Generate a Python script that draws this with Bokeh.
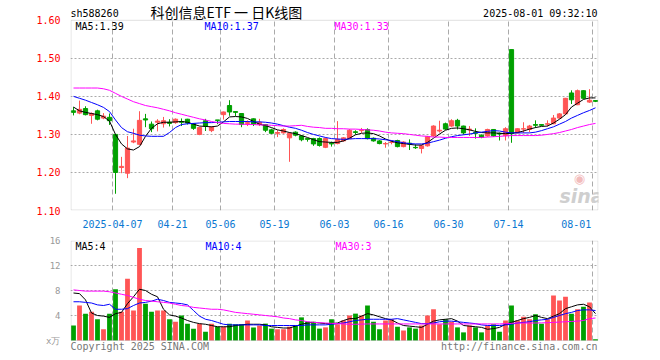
from bokeh.plotting import figure
from bokeh.layouts import column
from bokeh.models import FixedTicker, NumeralTickFormatter, Label, ColumnDataSource, BoxAnnotation
from bokeh.embed import file_html
from bokeh.resources import INLINE

# ---------------- data ----------------
opens = [1.362, 1.356, 1.368, 1.350, 1.362, 1.343, 1.345, 1.300, 1.213, 1.198,
         1.280, 1.274, 1.341, 1.327, 1.332, 1.328, 1.332, 1.331, 1.334, 1.340,
         1.328, 1.300, 1.336, 1.310, 1.338, 1.352, 1.376, 1.360, 1.355, 1.329,
         1.341, 1.326, 1.326, 1.312, 1.303, 1.304, 1.291, 1.306, 1.296, 1.289,
         1.289, 1.289, 1.266, 1.277, 1.276, 1.283, 1.289, 1.307, 1.310, 1.313,
         1.290, 1.283, 1.275, 1.279, 1.284, 1.268, 1.277, 1.266, 1.263, 1.270,
         1.296, 1.309, 1.328, 1.322, 1.337, 1.322, 1.312, 1.305, 1.298, 1.296,
         1.313, 1.303, 1.297, 1.523, 1.304, 1.314, 1.313, 1.326, 1.326, 1.327,
         1.328, 1.343, 1.354, 1.409, 1.378, 1.415, 1.385, 1.389]
closes = [1.358, 1.366, 1.352, 1.355, 1.340, 1.348, 1.336, 1.200, 1.216, 1.264,
          1.283, 1.337, 1.338, 1.315, 1.335, 1.336, 1.329, 1.340, 1.332, 1.330,
          1.316, 1.318, 1.322, 1.319, 1.337, 1.359, 1.359, 1.358, 1.326, 1.331,
          1.327, 1.332, 1.311, 1.303, 1.305, 1.313, 1.303, 1.298, 1.286, 1.287,
          1.275, 1.271, 1.289, 1.275, 1.287, 1.291, 1.311, 1.305, 1.311, 1.289,
          1.283, 1.276, 1.276, 1.280, 1.268, 1.280, 1.275, 1.265, 1.270, 1.294,
          1.322, 1.311, 1.314, 1.336, 1.322, 1.304, 1.314, 1.303, 1.292, 1.313,
          1.296, 1.301, 1.315, 1.302, 1.315, 1.315, 1.322, 1.324, 1.324, 1.328,
          1.343, 1.354, 1.395, 1.391, 1.415, 1.395, 1.390, 1.387]
highs = [1.372, 1.389, 1.374, 1.358, 1.365, 1.356, 1.355, 1.300, 1.241, 1.296,
         1.315, 1.361, 1.354, 1.334, 1.340, 1.346, 1.340, 1.342, 1.342, 1.341,
         1.330, 1.320, 1.341, 1.321, 1.338, 1.360, 1.390, 1.360, 1.356, 1.337,
         1.342, 1.341, 1.327, 1.315, 1.311, 1.316, 1.306, 1.308, 1.298, 1.290,
         1.291, 1.292, 1.292, 1.281, 1.335, 1.293, 1.314, 1.311, 1.317, 1.316,
         1.292, 1.285, 1.280, 1.284, 1.286, 1.282, 1.287, 1.274, 1.273, 1.296,
         1.324, 1.336, 1.331, 1.340, 1.341, 1.323, 1.322, 1.316, 1.300, 1.315,
         1.314, 1.305, 1.319, 1.523, 1.316, 1.332, 1.325, 1.337, 1.327, 1.337,
         1.351, 1.356, 1.396, 1.416, 1.418, 1.416, 1.419, 1.390]
lows = [1.350, 1.353, 1.350, 1.328, 1.337, 1.340, 1.325, 1.144, 1.198, 1.185,
        1.277, 1.272, 1.319, 1.306, 1.308, 1.318, 1.321, 1.328, 1.322, 1.326,
        1.312, 1.298, 1.309, 1.306, 1.327, 1.339, 1.349, 1.348, 1.319, 1.322,
        1.322, 1.322, 1.306, 1.301, 1.293, 1.302, 1.228, 1.295, 1.282, 1.281,
        1.270, 1.268, 1.264, 1.268, 1.274, 1.281, 1.288, 1.300, 1.304, 1.287,
        1.281, 1.274, 1.265, 1.274, 1.266, 1.266, 1.259, 1.262, 1.250, 1.268,
        1.294, 1.305, 1.312, 1.320, 1.313, 1.300, 1.296, 1.289, 1.290, 1.294,
        1.294, 1.284, 1.284, 1.278, 1.303, 1.304, 1.306, 1.317, 1.322, 1.321,
        1.327, 1.341, 1.352, 1.380, 1.377, 1.393, 1.383, 1.385]
volumes = [2.4, 5.6, 4.3, 4.6, 3.4, 1.8, 4.3, 8.2, 4.6, 9.9,
           4.8, 14.8, 5.9, 4.6, 4.8, 4.8, 3.4, 3.0, 4.0, 2.7,
           1.9, 2.7, 1.4, 2.7, 2.2, 2.2, 2.7, 2.6, 2.6, 3.2,
           2.1, 2.4, 2.7, 1.9, 1.8, 1.8, 2.2, 2.4, 3.7, 3.0,
           3.0, 1.9, 2.1, 3.4, 2.6, 3.2, 4.0, 4.3, 4.0, 5.6,
           3.0, 1.8, 3.2, 3.4, 2.2, 1.6, 2.1, 1.9, 2.4, 4.0,
           5.0, 2.6, 3.4, 3.0, 2.1, 1.3, 2.4, 2.1, 1.3, 2.4,
           2.6, 1.4, 3.2, 5.6, 3.2, 3.8, 3.4, 4.2, 2.7, 3.4,
           7.2, 6.4, 7.0, 4.3, 5.0, 5.4, 6.1, 0.2]
ma5 = [1.372, 1.362, 1.358, 1.355, 1.352, 1.347, 1.335, 1.300, 1.275, 1.262,
       1.259, 1.268, 1.295, 1.316, 1.328, 1.332, 1.332, 1.333, 1.334, 1.332,
       1.327, 1.322, 1.321, 1.320, 1.322, 1.333, 1.346, 1.347, 1.346, 1.342,
       1.334, 1.327, 1.323, 1.318, 1.312, 1.309, 1.305, 1.302, 1.297, 1.292,
       1.286, 1.281, 1.280, 1.279, 1.279, 1.283, 1.290, 1.299, 1.303, 1.304,
       1.302, 1.296, 1.288, 1.282, 1.278, 1.276, 1.274, 1.272, 1.272, 1.279,
       1.290, 1.301, 1.311, 1.316, 1.317, 1.315, 1.312, 1.308, 1.305, 1.304,
       1.304, 1.303, 1.302, 1.303, 1.305, 1.309, 1.314, 1.318, 1.321, 1.322,
       1.330, 1.340, 1.352, 1.372, 1.382, 1.392, 1.396, 1.396]
ma10 = [1.400, 1.395, 1.390, 1.384, 1.378, 1.371, 1.360, 1.338, 1.318, 1.307,
        1.303, 1.298, 1.296, 1.295, 1.295, 1.295, 1.305, 1.318, 1.326, 1.328,
        1.329, 1.330, 1.331, 1.331, 1.332, 1.333, 1.334, 1.334, 1.334, 1.334,
        1.333, 1.333, 1.332, 1.330, 1.327, 1.323, 1.319, 1.316, 1.311, 1.305,
        1.300, 1.296, 1.292, 1.289, 1.288, 1.287, 1.288, 1.289, 1.289, 1.289,
        1.289, 1.288, 1.286, 1.284, 1.281, 1.278, 1.276, 1.275, 1.275, 1.277,
        1.281, 1.285, 1.290, 1.294, 1.297, 1.299, 1.301, 1.304, 1.306, 1.308,
        1.310, 1.309, 1.306, 1.304, 1.304, 1.304, 1.304, 1.306, 1.310, 1.315,
        1.320, 1.327, 1.334, 1.343, 1.350, 1.357, 1.363, 1.370]
ma30 = [1.422, 1.422, 1.422, 1.422, 1.422, 1.420, 1.416, 1.408, 1.400, 1.393,
        1.386, 1.381, 1.376, 1.373, 1.370, 1.366, 1.362, 1.357, 1.353, 1.349,
        1.345, 1.341, 1.338, 1.334, 1.331, 1.329, 1.328, 1.327, 1.327, 1.326,
        1.326, 1.325, 1.325, 1.324, 1.323, 1.322, 1.322, 1.323, 1.324, 1.321,
        1.319, 1.318, 1.316, 1.316, 1.315, 1.315, 1.314, 1.314, 1.313, 1.312,
        1.311, 1.309, 1.306, 1.304, 1.303, 1.302, 1.300, 1.298, 1.296, 1.295,
        1.293, 1.293, 1.292, 1.292, 1.292, 1.292, 1.292, 1.292, 1.292, 1.293,
        1.294, 1.295, 1.296, 1.297, 1.297, 1.297, 1.297, 1.297, 1.298, 1.300,
        1.302, 1.305, 1.309, 1.313, 1.318, 1.322, 1.326, 1.329]
vma5 = [7.6, 7.5, 6.5, 4.4, 4.0, 3.9, 3.7, 4.3, 4.5, 5.9,
        7.0, 8.2, 8.0, 7.4, 7.0, 5.0, 4.1, 3.9, 3.6, 3.2,
        2.9, 2.7, 2.6, 2.4, 2.2, 2.2, 2.2, 2.4, 2.5, 2.6,
        2.6, 2.6, 2.5, 2.2, 2.1, 2.0, 2.0, 2.3, 2.6, 2.8,
        2.9, 2.8, 2.7, 2.7, 2.8, 3.2, 3.5, 3.5, 3.9, 4.3,
        4.1, 3.8, 3.5, 3.3, 2.8, 2.4, 2.3, 2.2, 2.1, 2.6,
        3.1, 3.3, 3.4, 3.5, 3.1, 2.4, 2.3, 2.2, 2.1, 1.8,
        1.9, 2.1, 2.6, 2.9, 3.2, 3.5, 3.7, 4.0, 3.7, 3.5,
        3.9, 4.3, 5.1, 5.4, 5.7, 5.8, 5.4, 4.3]
vma10 = [6.2, 6.2, 6.1, 6.0, 5.7, 5.6, 5.8, 5.0, 5.0, 5.1,
         5.6, 6.0, 6.1, 6.3, 6.6, 6.4, 6.1, 6.0, 5.9, 5.7,
         4.8, 3.9, 3.4, 3.2, 2.9, 2.6, 2.5, 2.5, 2.5, 2.5,
         2.5, 2.5, 2.4, 2.4, 2.4, 2.4, 2.4, 2.4, 2.4, 2.5,
         2.5, 2.5, 2.5, 2.6, 2.7, 2.8, 3.0, 3.2, 3.3, 3.4,
         3.4, 3.4, 3.4, 3.4, 3.5, 3.3, 3.1, 2.9, 2.7, 2.7,
         2.8, 3.0, 3.1, 3.1, 3.0, 2.9, 2.8, 2.7, 2.5, 2.4,
         2.4, 2.4, 2.5, 2.6, 2.8, 2.9, 3.0, 3.2, 3.3, 3.4,
         3.7, 4.0, 4.3, 4.5, 4.8, 4.9, 4.9, 4.8]
vma30 = [8.1, 8.0, 7.9, 7.9, 7.9, 7.9, 7.8, 7.6, 7.4, 7.2,
         6.9, 6.6, 6.4, 6.3, 6.2, 6.1, 6.0, 5.8, 5.6, 5.5,
         5.3, 5.2, 5.1, 5.0, 5.0, 4.9, 4.7, 4.5, 4.4, 4.3,
         4.2, 4.1, 4.0, 3.9, 3.8, 3.6, 3.5, 3.3, 3.2, 3.0,
         2.9, 2.85, 2.8, 2.75, 2.7, 2.65, 2.6, 2.6, 2.62, 2.65,
         2.65, 2.65, 2.65, 2.65, 2.65, 2.65, 2.65, 2.65, 2.65, 2.65,
         2.65, 2.65, 2.65, 2.65, 2.65, 2.65, 2.65, 2.65, 2.65, 2.65,
         2.65, 2.65, 2.7, 2.75, 2.8, 2.8, 2.8, 2.8, 2.82, 2.85,
         2.9, 2.95, 3.0, 3.05, 3.1, 3.2, 3.5, 3.6]

date_labels = ["2025-04-07", "04-21", "05-06", "05-19", "06-03",
               "06-16", "06-30", "07-14", "08-01"]
date_index = [7, 17, 25, 34, 44, 53, 63, 73, 87]
price_ticks = [1.10, 1.20, 1.30, 1.40, 1.50, 1.60]
volume_ticks = [0, 4, 8, 12, 16]

# ---------------- styling ----------------
RED = "#ff5555"
GREEN = "#00a000"
MONO = "DejaVu Sans Mono"
GRID = "#aaaaaa"
BOX = "#999999"
FRAME_W = 528          # px width of the plotting box
SLOT = FRAME_W / 88.0  # px per trading day
PPX = 0.5 / 192        # price per px
VPX = 16 / 100.0       # volume per px

n = len(closes)
idx = list(range(n))
colors = [RED if c >= o else GREEN for o, c in zip(opens, closes)]
src = ColumnDataSource(dict(
    x=idx, open=opens, close=closes, high=highs, low=lows,
    top=[max(o, c) for o, c in zip(opens, closes)],
    bot=[min(o, c) for o, c in zip(opens, closes)],
    vol=volumes, color=colors))

line_pos = [i - 0.5 for i in date_index]
label_pos = line_pos[:-1] + [line_pos[-1] - 2.7]
x_overrides = {p: t for p, t in zip(label_pos, date_labels)}
hx = 0.5 / SLOT


def base_fig(height, y_range, top, bottom):
    p = figure(width=650, height=height, x_range=(-0.5, n - 0.5), y_range=y_range,
               output_backend="svg", toolbar_location=None, title=None,
               min_border_left=70, min_border_right=650 - 70 - FRAME_W,
               min_border_top=top, min_border_bottom=bottom)
    p.outline_line_color = None
    p.background_fill_color = "white"
    p.border_fill_color = "white"
    p.xgrid.visible = False
    p.ygrid.grid_line_color = GRID
    p.ygrid.grid_line_dash = "2 2"
    p.yaxis.axis_line_color = None
    p.yaxis.major_tick_line_color = None
    p.yaxis.minor_tick_line_color = None
    p.yaxis.major_label_standoff = 4
    p.yaxis.major_label_text_font = MONO
    return p


def lab(p, x, y, text, color="black", size="10px", align="left", font=MONO, style="normal"):
    p.add_layout(Label(x=x, y=y, text=text, text_color=color, text_font=font,
                       text_font_size=size, text_align=align, text_baseline="middle",
                       text_font_style=style))


def px_to_x(px):
    return (px - 70) / SLOT - 0.5


# ---------------- price panel (frame extends up to the page top for the header) ----------------
p_lo, p_hi = price_ticks[0], price_ticks[-1]
p1 = base_fig(230, (p_lo, p_hi + 20 * PPX), 0, 18)
p1.ygrid.ticker = FixedTicker(ticks=price_ticks[1:-1])
p1.yaxis.ticker = FixedTicker(ticks=price_ticks)
p1.yaxis.formatter = NumeralTickFormatter(format="0.00")
p1.yaxis.major_label_text_color = "#ff0000"
p1.yaxis.major_label_text_font_size = "10px"
p1.xaxis.ticker = FixedTicker(ticks=label_pos)
p1.xaxis.major_label_overrides = x_overrides
p1.xaxis.axis_line_color = None
p1.xaxis.major_tick_line_color = None
p1.xaxis.minor_tick_line_color = None
p1.xaxis.major_label_standoff = 3
p1.xaxis.major_label_text_font = MONO
p1.xaxis.major_label_text_font_size = "10px"
p1.xaxis.major_label_text_color = "#0a78d2"

p1.segment(x0=line_pos, y0=[p_lo] * len(line_pos), x1=line_pos, y1=[p_hi] * len(line_pos),
           line_color=GRID, line_dash="5 3", line_width=1)
p1.add_layout(BoxAnnotation(left=-0.5 + hx, right=n - 0.5 - hx, bottom=p_lo + PPX / 2, top=p_hi,
                            fill_color=None, line_color=BOX, line_width=1))
p1.segment(x0="x", y0="low", x1="x", y1="high", line_color="color", line_width=1, source=src)
p1.vbar(x="x", width=0.7, top="top", bottom="bot", fill_color="color",
        line_color="color", line_width=1, source=src)
p1.line(idx, ma5, line_color="black", line_width=1)
p1.line(idx, ma10, line_color="#0000ff", line_width=1)
p1.line(idx, ma30, line_color="#ff00ff", line_width=1)

lab(p1, px_to_x(70), p_hi + 7 * PPX, "sh588260")
lab(p1, px_to_x(150), p_hi + 8.5 * PPX, "科创信息ETF 一 日K线图", size="14px", font="Noto Sans CJK SC")
lab(p1, px_to_x(597), p_hi + 7 * PPX, "2025-08-01 09:32:10", align="right")
lab(p1, px_to_x(75), p_hi - 6 * PPX, "MA5:1.39", color="black")
lab(p1, px_to_x(204), p_hi - 6 * PPX, "MA10:1.37", color="#0000ff")
lab(p1, px_to_x(334), p_hi - 6 * PPX, "MA30:1.33", color="#ff00ff")
# watermark
lab(p1, px_to_x(579), p_hi - 160 * PPX, "◉", color="#f2bcbc", size="13px", align="center", font="DejaVu Sans")
lab(p1, px_to_x(581), p_hi - 177 * PPX, "sina", color="#cfcfcf", size="19px", align="center",
    font="DejaVu Sans", style="bold italic")

# ---------------- volume panel (frame extends down for the footer) ----------------
v_lo, v_hi = volume_ticks[0], volume_ticks[-1]
p2 = base_fig(126, (v_lo - 16 * VPX, v_hi), 10, 0)
p2.xaxis.visible = False
p2.ygrid.ticker = FixedTicker(ticks=volume_ticks[1:-1])
p2.yaxis.ticker = FixedTicker(ticks=volume_ticks)
p2.yaxis.major_label_overrides = {0: "x万"}
p2.yaxis.major_label_text_color = "#999999"
p2.yaxis.major_label_text_font_size = "9px"

p2.segment(x0=line_pos, y0=[v_lo] * len(line_pos), x1=line_pos, y1=[v_hi] * len(line_pos),
           line_color=GRID, line_dash="5 3", line_width=1)
p2.vbar(x="x", width=0.8, top="vol", bottom=0, fill_color="color", line_color=None, source=src)
p2.line(idx, vma5, line_color="black", line_width=1)
p2.line(idx, vma10, line_color="#0000ff", line_width=1)
p2.line(idx, vma30, line_color="#ff00ff", line_width=1)
p2.add_layout(BoxAnnotation(left=-0.5 + hx, right=n - 0.5 - hx, bottom=v_lo, top=v_hi - VPX / 2,
                            fill_color=None, line_color=BOX, line_width=1))

lab(p2, px_to_x(75), v_hi - 5.5 * VPX, "MA5:4", color="black")
lab(p2, px_to_x(205), v_hi - 5.5 * VPX, "MA10:4", color="#0000ff")
lab(p2, px_to_x(335), v_hi - 5.5 * VPX, "MA30:3", color="#ff00ff")
lab(p2, px_to_x(70), v_lo - 6 * VPX, "Copyright 2025 SINA.COM", color="#777777")
lab(p2, px_to_x(597), v_lo - 6 * VPX, "http://finance.sina.com.cn", color="#777777", align="right")

layout = column(p1, p2, spacing=0)
open("out.html", "w").write(file_html(layout, INLINE))
